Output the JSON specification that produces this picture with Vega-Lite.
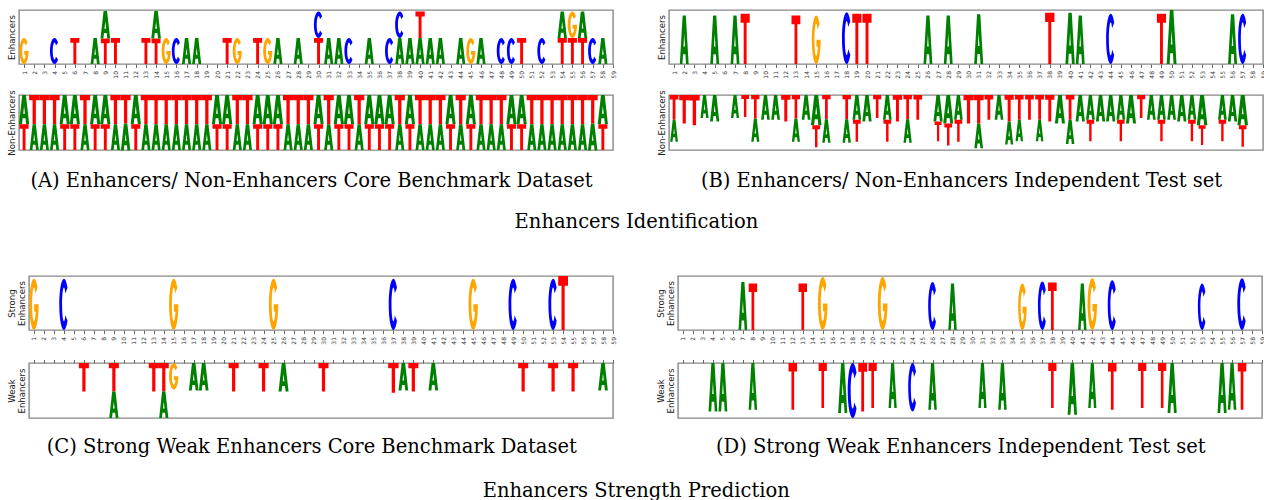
{
"$schema": "https://vega.github.io/schema/vega-lite/v6.json",
"padding": {"left": 6, "top": 9, "right": 0, "bottom": 0},
"background": "white",
"config": {
  "view": {"stroke": "#888888", "strokeWidth": 1.4},
  "axis": {"labelFont": "DejaVu Sans", "titleFont": "DejaVu Sans", "grid": false, "minExtent": 0},
  "title": {"font": "DejaVu Serif", "fontSize": 19.5, "fontWeight": "normal", "color": "black"}
},
"datasets": {
  "a_top": [
    {"pos":1,"b":"G","h":0.48},{"pos":4,"b":"C","h":0.48},{"pos":6,"b":"T","h":0.48},{"pos":8,"b":"A","h":0.48},
    {"pos":9,"b":"T","h":0.47},{"pos":9,"b":"A","h":0.51},{"pos":10,"b":"T","h":0.48},{"pos":13,"b":"T","h":0.48},
    {"pos":14,"b":"T","h":0.47},{"pos":14,"b":"A","h":0.51},{"pos":15,"b":"G","h":0.48},{"pos":16,"b":"C","h":0.48},
    {"pos":17,"b":"A","h":0.48},{"pos":18,"b":"A","h":0.48},{"pos":21,"b":"T","h":0.48},{"pos":22,"b":"G","h":0.48},
    {"pos":24,"b":"T","h":0.48},{"pos":25,"b":"G","h":0.48},{"pos":26,"b":"A","h":0.48},{"pos":28,"b":"A","h":0.48},
    {"pos":30,"b":"T","h":0.48},{"pos":30,"b":"C","h":0.49},{"pos":31,"b":"A","h":0.48},{"pos":32,"b":"A","h":0.48},
    {"pos":33,"b":"C","h":0.48},{"pos":35,"b":"A","h":0.48},{"pos":37,"b":"C","h":0.48},{"pos":38,"b":"A","h":0.48},
    {"pos":38,"b":"C","h":0.49},{"pos":39,"b":"A","h":0.48},{"pos":40,"b":"A","h":0.48},{"pos":40,"b":"T","h":0.49},
    {"pos":41,"b":"A","h":0.48},{"pos":42,"b":"A","h":0.48},{"pos":44,"b":"A","h":0.48},{"pos":45,"b":"G","h":0.48},
    {"pos":46,"b":"A","h":0.48},{"pos":48,"b":"C","h":0.48},{"pos":49,"b":"C","h":0.48},{"pos":50,"b":"T","h":0.48},
    {"pos":52,"b":"C","h":0.48},{"pos":54,"b":"T","h":0.48},{"pos":54,"b":"A","h":0.49},{"pos":55,"b":"T","h":0.48},
    {"pos":55,"b":"G","h":0.49},{"pos":56,"b":"T","h":0.48},{"pos":56,"b":"A","h":0.49},{"pos":57,"b":"C","h":0.48},
    {"pos":58,"b":"A","h":0.48}
  ],
  "a_bot": [
    {"pos":1,"b":"A","h":0.53},{"pos":1,"b":"T","h":0.47},{"pos":2,"b":"T","h":0.53},{"pos":2,"b":"A","h":0.47},
    {"pos":3,"b":"T","h":0.53},{"pos":3,"b":"A","h":0.47},{"pos":4,"b":"T","h":0.53},{"pos":4,"b":"A","h":0.47},
    {"pos":5,"b":"A","h":0.53},{"pos":5,"b":"T","h":0.47},{"pos":6,"b":"A","h":0.53},{"pos":6,"b":"T","h":0.47},
    {"pos":7,"b":"T","h":0.53},{"pos":7,"b":"A","h":0.47},{"pos":8,"b":"A","h":0.53},{"pos":8,"b":"T","h":0.47},
    {"pos":9,"b":"A","h":0.53},{"pos":9,"b":"T","h":0.47},{"pos":10,"b":"T","h":0.53},{"pos":10,"b":"A","h":0.47},
    {"pos":11,"b":"T","h":0.52},{"pos":11,"b":"A","h":0.49},{"pos":12,"b":"A","h":0.53},{"pos":12,"b":"T","h":0.47},
    {"pos":13,"b":"T","h":0.53},{"pos":13,"b":"A","h":0.47},{"pos":14,"b":"T","h":0.53},{"pos":14,"b":"A","h":0.47},
    {"pos":15,"b":"T","h":0.53},{"pos":15,"b":"A","h":0.47},{"pos":16,"b":"T","h":0.53},{"pos":16,"b":"A","h":0.47},
    {"pos":17,"b":"T","h":0.53},{"pos":17,"b":"A","h":0.47},{"pos":18,"b":"T","h":0.53},{"pos":18,"b":"A","h":0.47},
    {"pos":19,"b":"T","h":0.53},{"pos":19,"b":"A","h":0.47},{"pos":20,"b":"A","h":0.53},{"pos":20,"b":"T","h":0.47},
    {"pos":21,"b":"A","h":0.53},{"pos":21,"b":"T","h":0.47},{"pos":22,"b":"T","h":0.53},{"pos":22,"b":"A","h":0.47},
    {"pos":23,"b":"T","h":0.53},{"pos":23,"b":"A","h":0.47},{"pos":24,"b":"A","h":0.53},{"pos":24,"b":"T","h":0.47},
    {"pos":25,"b":"A","h":0.53},{"pos":25,"b":"T","h":0.47},{"pos":26,"b":"A","h":0.53},{"pos":26,"b":"T","h":0.47},
    {"pos":27,"b":"T","h":0.53},{"pos":27,"b":"A","h":0.47},{"pos":28,"b":"T","h":0.53},{"pos":28,"b":"A","h":0.47},
    {"pos":29,"b":"T","h":0.53},{"pos":29,"b":"A","h":0.47},{"pos":30,"b":"A","h":0.53},{"pos":30,"b":"T","h":0.47},
    {"pos":31,"b":"T","h":0.53},{"pos":31,"b":"A","h":0.47},{"pos":32,"b":"A","h":0.53},{"pos":32,"b":"T","h":0.47},
    {"pos":33,"b":"A","h":0.53},{"pos":33,"b":"T","h":0.47},{"pos":34,"b":"T","h":0.53},{"pos":34,"b":"A","h":0.47},
    {"pos":35,"b":"A","h":0.53},{"pos":35,"b":"T","h":0.47},{"pos":36,"b":"A","h":0.53},{"pos":36,"b":"T","h":0.47},
    {"pos":37,"b":"A","h":0.53},{"pos":37,"b":"T","h":0.47},{"pos":38,"b":"T","h":0.53},{"pos":38,"b":"A","h":0.47},
    {"pos":39,"b":"A","h":0.53},{"pos":39,"b":"T","h":0.47},{"pos":40,"b":"T","h":0.53},{"pos":40,"b":"A","h":0.47},
    {"pos":41,"b":"T","h":0.53},{"pos":41,"b":"A","h":0.47},{"pos":42,"b":"T","h":0.53},{"pos":42,"b":"A","h":0.47},
    {"pos":43,"b":"A","h":0.53},{"pos":43,"b":"T","h":0.47},{"pos":44,"b":"T","h":0.53},{"pos":44,"b":"A","h":0.47},
    {"pos":45,"b":"A","h":0.53},{"pos":45,"b":"T","h":0.47},{"pos":46,"b":"T","h":0.53},{"pos":46,"b":"A","h":0.47},
    {"pos":47,"b":"T","h":0.53},{"pos":47,"b":"A","h":0.47},{"pos":48,"b":"T","h":0.53},{"pos":48,"b":"A","h":0.47},
    {"pos":49,"b":"A","h":0.53},{"pos":49,"b":"T","h":0.47},{"pos":50,"b":"A","h":0.53},{"pos":50,"b":"T","h":0.47},
    {"pos":51,"b":"T","h":0.53},{"pos":51,"b":"A","h":0.47},{"pos":52,"b":"T","h":0.53},{"pos":52,"b":"A","h":0.47},
    {"pos":53,"b":"T","h":0.53},{"pos":53,"b":"A","h":0.47},{"pos":54,"b":"T","h":0.53},{"pos":54,"b":"A","h":0.47},
    {"pos":55,"b":"T","h":0.53},{"pos":55,"b":"A","h":0.47},{"pos":56,"b":"T","h":0.53},{"pos":56,"b":"A","h":0.47},
    {"pos":57,"b":"T","h":0.52},{"pos":57,"b":"A","h":0.49},{"pos":58,"b":"A","h":0.53},{"pos":58,"b":"T","h":0.47}
  ],
  "b_top": [
    {"pos":2,"b":"A","h":0.9},{"pos":5,"b":"A","h":0.9},{"pos":7,"b":"A","h":0.9},{"pos":8,"b":"T","h":0.93},
    {"pos":13,"b":"T","h":0.9},{"pos":15,"b":"G","h":0.9},{"pos":18,"b":"C","h":0.96},{"pos":19,"b":"T","h":0.93},
    {"pos":20,"b":"T","h":0.93},{"pos":26,"b":"A","h":0.9},{"pos":28,"b":"A","h":0.9},{"pos":31,"b":"A","h":0.92},
    {"pos":38,"b":"T","h":0.95},{"pos":40,"b":"A","h":0.95},{"pos":41,"b":"A","h":0.9},{"pos":44,"b":"C","h":0.93},
    {"pos":49,"b":"T","h":0.93},{"pos":50,"b":"A","h":1.0},{"pos":56,"b":"A","h":0.92},{"pos":57,"b":"C","h":0.93}
  ],
  "b_bot": [
    {"pos":1,"b":"T","h":0.45},{"pos":1,"b":"A","h":0.4},{"pos":2,"b":"T","h":0.52},{"pos":3,"b":"T","h":0.55},
    {"pos":4,"b":"A","h":0.42},{"pos":5,"b":"A","h":0.48},{"pos":7,"b":"A","h":0.42},{"pos":8,"b":"T","h":0.4},
    {"pos":9,"b":"T","h":0.43},{"pos":9,"b":"A","h":0.42},{"pos":10,"b":"A","h":0.45},{"pos":11,"b":"A","h":0.45},
    {"pos":12,"b":"T","h":0.48},{"pos":13,"b":"T","h":0.43},{"pos":13,"b":"A","h":0.42},{"pos":14,"b":"A","h":0.45},
    {"pos":15,"b":"A","h":0.55},{"pos":15,"b":"T","h":0.4},{"pos":16,"b":"T","h":0.44},{"pos":16,"b":"A","h":0.43},
    {"pos":18,"b":"T","h":0.44},{"pos":18,"b":"A","h":0.43},{"pos":19,"b":"A","h":0.45},{"pos":19,"b":"T","h":0.4},
    {"pos":20,"b":"A","h":0.48},{"pos":21,"b":"T","h":0.42},{"pos":22,"b":"A","h":0.45},{"pos":22,"b":"T","h":0.4},
    {"pos":23,"b":"T","h":0.48},{"pos":24,"b":"T","h":0.44},{"pos":24,"b":"A","h":0.43},{"pos":25,"b":"T","h":0.45},
    {"pos":27,"b":"A","h":0.48},{"pos":27,"b":"T","h":0.36},{"pos":28,"b":"A","h":0.52},{"pos":28,"b":"T","h":0.4},
    {"pos":29,"b":"A","h":0.45},{"pos":29,"b":"T","h":0.4},{"pos":30,"b":"T","h":0.52},{"pos":31,"b":"T","h":0.52},
    {"pos":31,"b":"A","h":0.45},{"pos":32,"b":"T","h":0.45},{"pos":33,"b":"A","h":0.45},{"pos":34,"b":"T","h":0.48},
    {"pos":34,"b":"A","h":0.42},{"pos":35,"b":"T","h":0.45},{"pos":35,"b":"A","h":0.39},{"pos":36,"b":"T","h":0.45},
    {"pos":37,"b":"T","h":0.45},{"pos":37,"b":"A","h":0.39},{"pos":38,"b":"T","h":0.48},{"pos":39,"b":"A","h":0.52},
    {"pos":40,"b":"T","h":0.45},{"pos":40,"b":"A","h":0.44},{"pos":41,"b":"A","h":0.48},{"pos":42,"b":"A","h":0.45},
    {"pos":42,"b":"T","h":0.39},{"pos":43,"b":"A","h":0.48},{"pos":44,"b":"A","h":0.48},{"pos":45,"b":"A","h":0.45},
    {"pos":45,"b":"T","h":0.39},{"pos":46,"b":"A","h":0.52},{"pos":47,"b":"T","h":0.42},{"pos":48,"b":"A","h":0.45},
    {"pos":49,"b":"A","h":0.45},{"pos":49,"b":"T","h":0.39},{"pos":50,"b":"A","h":0.45},{"pos":51,"b":"A","h":0.48},
    {"pos":52,"b":"A","h":0.45},{"pos":52,"b":"T","h":0.39},{"pos":53,"b":"A","h":0.55},{"pos":53,"b":"T","h":0.36},
    {"pos":55,"b":"A","h":0.45},{"pos":55,"b":"T","h":0.39},{"pos":56,"b":"A","h":0.48},{"pos":57,"b":"A","h":0.55},
    {"pos":57,"b":"T","h":0.39}
  ],
  "c_top": [
    {"pos":1,"b":"G","h":0.95},{"pos":4,"b":"C","h":0.95},{"pos":15,"b":"G","h":0.95},{"pos":25,"b":"G","h":0.95},
    {"pos":37,"b":"C","h":0.95},{"pos":45,"b":"G","h":0.95},{"pos":49,"b":"C","h":0.95},{"pos":53,"b":"C","h":0.95},
    {"pos":54,"b":"T","h":1.0}
  ],
  "c_bot": [
    {"pos":6,"b":"T","h":0.52},{"pos":9,"b":"T","h":0.52},{"pos":9,"b":"A","h":0.48},{"pos":13,"b":"T","h":0.52},
    {"pos":14,"b":"T","h":0.52},{"pos":14,"b":"A","h":0.48},{"pos":15,"b":"G","h":0.48},{"pos":17,"b":"A","h":0.5},
    {"pos":18,"b":"A","h":0.5},{"pos":21,"b":"T","h":0.52},{"pos":24,"b":"T","h":0.52},{"pos":26,"b":"A","h":0.52},
    {"pos":30,"b":"T","h":0.52},{"pos":37,"b":"T","h":0.54},{"pos":38,"b":"A","h":0.5},{"pos":39,"b":"T","h":0.52},
    {"pos":41,"b":"A","h":0.5},{"pos":50,"b":"T","h":0.52},{"pos":53,"b":"T","h":0.52},{"pos":55,"b":"T","h":0.52},
    {"pos":58,"b":"A","h":0.5}
  ],
  "d_top": [
    {"pos":7,"b":"A","h":0.89},{"pos":8,"b":"T","h":0.86},{"pos":13,"b":"T","h":0.86},{"pos":15,"b":"G","h":0.98},
    {"pos":21,"b":"G","h":0.98},{"pos":26,"b":"C","h":0.89},{"pos":28,"b":"A","h":0.86},{"pos":35,"b":"G","h":0.86},
    {"pos":37,"b":"C","h":0.9},{"pos":38,"b":"T","h":0.88},{"pos":41,"b":"A","h":0.86},{"pos":42,"b":"G","h":0.96},
    {"pos":44,"b":"C","h":0.92},{"pos":53,"b":"C","h":0.86},{"pos":57,"b":"C","h":0.96}
  ],
  "d_bot": [
    {"pos":4,"b":"A","h":0.88},{"pos":5,"b":"A","h":0.88},{"pos":8,"b":"A","h":0.85},{"pos":12,"b":"T","h":0.85},
    {"pos":15,"b":"T","h":0.82},{"pos":17,"b":"A","h":0.91},{"pos":18,"b":"C","h":1.0},{"pos":19,"b":"T","h":0.88},
    {"pos":20,"b":"T","h":0.82},{"pos":22,"b":"A","h":0.82},{"pos":24,"b":"C","h":0.88},{"pos":26,"b":"A","h":0.85},
    {"pos":31,"b":"A","h":0.82},{"pos":33,"b":"A","h":0.85},{"pos":38,"b":"T","h":0.82},{"pos":40,"b":"A","h":0.94},
    {"pos":42,"b":"A","h":0.82},{"pos":44,"b":"T","h":0.85},{"pos":47,"b":"T","h":0.82},{"pos":49,"b":"T","h":0.82},
    {"pos":50,"b":"A","h":0.91},{"pos":55,"b":"A","h":0.91},{"pos":56,"b":"A","h":0.85},{"pos":57,"b":"T","h":0.85}
  ]
},
"resolve": {"scale": {"shape": "independent", "size": "independent"}},
"spacing": 43,
"vconcat": [
  {
    "hconcat": [
      {
        "vconcat": [
          {
            "data": {"name": "a_top"}, "width": 594, "height": 54,
            "transform": [{"stack": "h", "groupby": ["pos"], "sort": [{"field": "h", "order": "ascending"}], "as": ["y0", "y1"]}],
            "mark": {"type": "point", "filled": true, "opacity": 1, "strokeWidth": 0},
            "encoding": {
              "x": {"field": "pos", "type": "quantitative", "scale": {"domain": [0.5, 59], "nice": false, "zero": false},
                    "axis": {"orient": "bottom", "values": [1,2,3,4,5,6,7,8,9,10,11,12,13,14,15,16,17,18,19,20,21,22,23,24,25,26,27,28,29,30,31,32,33,34,35,36,37,38,39,40,41,42,43,44,45,46,47,48,49,50,51,52,53,54,55,56,57,58,59], "labelAngle": -90, "labelFontSize": 6, "labelColor": "#333333", "labelPadding": 3, "labelOverlap": false, "labelFlush": false, "labelBound": false, "tickSize": 3.5, "tickColor": "#666666", "domain": false, "title": null}},
              "y": {"field": "y0", "type": "quantitative", "scale": {"domain": [0, 1], "nice": false},
                    "axis": {"title": "Enhancers", "labels": false, "ticks": false, "domain": false, "titleFontSize": 8.6, "titleFontWeight": "normal", "titleColor": "#222222", "titlePadding": 3}},
              "shape": {"field": "b", "type": "nominal", "legend": null, "scale": {"domain": ["A","C","G","T"], "range": ["M-1,0L-0.4,0L-0.272,-1.14L0.272,-1.14L0.4,0L1,0L0.36,-5.7L-0.36,-5.7ZM-0.17,-2.05L0,-3.53L0.17,-2.05Z", "M0.766,-4.683A1,2.85,0,1,0,0.766,-1.017L0.306,-1.641A0.4,1.881,0,1,1,0.306,-4.059Z", "M0.766,-4.683A1,2.85,0,1,0,1,-2.85L0.04,-2.85L0.04,-2.05L0.36,-2.03A0.4,1.881,0,1,1,0.306,-4.059Z", "M-1,-5.7L1,-5.7L1,-4.67L0.32,-4.67L0.32,0L-0.32,0L-0.32,-4.67L-1,-4.67Z"]}},
              "color": {"field": "b", "type": "nominal", "legend": null, "scale": {"domain": ["A","C","G","T"], "range": ["#008000","#0000ff","#ffa500","#ff0000"]}},
              "size": {"field": "h", "type": "quantitative", "legend": null, "scale": {"type": "pow", "exponent": 2, "domain": [0, 1], "range": [0, 359]}}
            }
          },
          {
            "data": {"name": "a_bot"}, "width": 594, "height": 55,
            "transform": [{"stack": "h", "groupby": ["pos"], "sort": [{"field": "h", "order": "descending"}], "as": ["y0", "y1"]}],
            "mark": {"type": "point", "filled": true, "opacity": 1, "strokeWidth": 0},
            "encoding": {
              "x": {"field": "pos", "type": "quantitative", "scale": {"domain": [0.5, 59], "nice": false, "zero": false}, "axis": null},
              "y": {"field": "y1", "type": "quantitative", "scale": {"domain": [0, 1], "nice": false, "reverse": true},
                    "axis": {"title": "Non-Enhancers", "labels": false, "ticks": false, "domain": false, "titleFontSize": 8.6, "titleFontWeight": "normal", "titleColor": "#222222", "titlePadding": 3}},
              "shape": {"field": "b", "type": "nominal", "legend": null, "scale": {"domain": ["A","C","G","T"], "range": ["M-1,0L-0.4,0L-0.272,-1.14L0.272,-1.14L0.4,0L1,0L0.36,-5.7L-0.36,-5.7ZM-0.17,-2.05L0,-3.53L0.17,-2.05Z", "M0.766,-4.683A1,2.85,0,1,0,0.766,-1.017L0.306,-1.641A0.4,1.881,0,1,1,0.306,-4.059Z", "M0.766,-4.683A1,2.85,0,1,0,1,-2.85L0.04,-2.85L0.04,-2.05L0.36,-2.03A0.4,1.881,0,1,1,0.306,-4.059Z", "M-1,-5.7L1,-5.7L1,-4.67L0.32,-4.67L0.32,0L-0.32,0L-0.32,-4.67L-1,-4.67Z"]}},
              "color": {"field": "b", "type": "nominal", "legend": null, "scale": {"domain": ["A","C","G","T"], "range": ["#008000","#0000ff","#ffa500","#ff0000"]}},
              "size": {"field": "h", "type": "quantitative", "legend": null, "scale": {"type": "pow", "exponent": 2, "domain": [0, 1], "range": [0, 372.4]}}
            }
          }
        ],
        "spacing": 10,
        "resolve": {"scale": {"shape": "independent", "size": "independent"}},
        "title": {"text": "(A) Enhancers/ Non-Enhancers Core Benchmark Dataset", "orient": "bottom", "offset": 16, "anchor": "middle"}
      },
      {
        "vconcat": [
          {
            "data": {"name": "b_top"}, "width": 594, "height": 54,
            "transform": [{"stack": "h", "groupby": ["pos"], "sort": [{"field": "h", "order": "ascending"}], "as": ["y0", "y1"]}],
            "mark": {"type": "point", "filled": true, "opacity": 1, "strokeWidth": 0},
            "encoding": {
              "x": {"field": "pos", "type": "quantitative", "scale": {"domain": [0.5, 59], "nice": false, "zero": false},
                    "axis": {"orient": "bottom", "values": [1,2,3,4,5,6,7,8,9,10,11,12,13,14,15,16,17,18,19,20,21,22,23,24,25,26,27,28,29,30,31,32,33,34,35,36,37,38,39,40,41,42,43,44,45,46,47,48,49,50,51,52,53,54,55,56,57,58,59], "labelAngle": -90, "labelFontSize": 6, "labelColor": "#333333", "labelPadding": 3, "labelOverlap": false, "labelFlush": false, "labelBound": false, "tickSize": 3.5, "tickColor": "#666666", "domain": false, "title": null}},
              "y": {"field": "y0", "type": "quantitative", "scale": {"domain": [0, 1], "nice": false},
                    "axis": {"title": "Enhancers", "labels": false, "ticks": false, "domain": false, "titleFontSize": 8.6, "titleFontWeight": "normal", "titleColor": "#222222", "titlePadding": 3}},
              "shape": {"field": "b", "type": "nominal", "legend": null, "scale": {"domain": ["A","C","G","T"], "range": ["M-1,0L-0.4,0L-0.272,-2.2L0.272,-2.2L0.4,0L1,0L0.36,-11L-0.36,-11ZM-0.17,-3.96L0,-6.82L0.17,-3.96Z", "M0.766,-9.037A1,5.5,0,1,0,0.766,-1.964L0.306,-3.166A0.4,3.63,0,1,1,0.306,-7.834Z", "M0.766,-9.037A1,5.5,0,1,0,1,-5.5L0.04,-5.5L0.04,-3.96L0.36,-3.916A0.4,3.63,0,1,1,0.306,-7.834Z", "M-1,-11L1,-11L1,-9.02L0.32,-9.02L0.32,0L-0.32,0L-0.32,-9.02L-1,-9.02Z"]}},
              "color": {"field": "b", "type": "nominal", "legend": null, "scale": {"domain": ["A","C","G","T"], "range": ["#008000","#0000ff","#ffa500","#ff0000"]}},
              "size": {"field": "h", "type": "quantitative", "legend": null, "scale": {"type": "pow", "exponent": 2, "domain": [0, 1], "range": [0, 96.4]}}
            }
          },
          {
            "data": {"name": "b_bot"}, "width": 594, "height": 55,
            "transform": [{"stack": "h", "groupby": ["pos"], "sort": [{"field": "h", "order": "descending"}], "as": ["y0", "y1"]}],
            "mark": {"type": "point", "filled": true, "opacity": 1, "strokeWidth": 0},
            "encoding": {
              "x": {"field": "pos", "type": "quantitative", "scale": {"domain": [0.5, 59], "nice": false, "zero": false}, "axis": null},
              "y": {"field": "y1", "type": "quantitative", "scale": {"domain": [0, 1], "nice": false, "reverse": true},
                    "axis": {"title": "Non-Enhancers", "labels": false, "ticks": false, "domain": false, "titleFontSize": 8.6, "titleFontWeight": "normal", "titleColor": "#222222", "titlePadding": 3}},
              "shape": {"field": "b", "type": "nominal", "legend": null, "scale": {"domain": ["A","C","G","T"], "range": ["M-1,0L-0.4,0L-0.272,-1.14L0.272,-1.14L0.4,0L1,0L0.36,-5.7L-0.36,-5.7ZM-0.17,-2.05L0,-3.53L0.17,-2.05Z", "M0.766,-4.683A1,2.85,0,1,0,0.766,-1.017L0.306,-1.641A0.4,1.881,0,1,1,0.306,-4.059Z", "M0.766,-4.683A1,2.85,0,1,0,1,-2.85L0.04,-2.85L0.04,-2.05L0.36,-2.03A0.4,1.881,0,1,1,0.306,-4.059Z", "M-1,-5.7L1,-5.7L1,-4.67L0.32,-4.67L0.32,0L-0.32,0L-0.32,-4.67L-1,-4.67Z"]}},
              "color": {"field": "b", "type": "nominal", "legend": null, "scale": {"domain": ["A","C","G","T"], "range": ["#008000","#0000ff","#ffa500","#ff0000"]}},
              "size": {"field": "h", "type": "quantitative", "legend": null, "scale": {"type": "pow", "exponent": 2, "domain": [0, 1], "range": [0, 372.4]}}
            }
          }
        ],
        "spacing": 10,
        "resolve": {"scale": {"shape": "independent", "size": "independent"}},
        "title": {"text": "(B) Enhancers/ Non-Enhancers Independent Test set", "orient": "bottom", "offset": 16, "anchor": "middle"}
      }
    ],
    "spacing": 39,
    "resolve": {"scale": {"shape": "independent", "size": "independent"}},
    "title": {"text": "Enhancers Identification", "orient": "bottom", "offset": 23, "anchor": "middle"}
  },
  {
    "hconcat": [
      {
        "data": {"values": []}, "width": 1, "height": 1,
        "view": {"stroke": null},
        "mark": {"type": "point", "opacity": 0},
        "encoding": {}
      },
      {
        "hconcat": [
          {
            "vconcat": [
              {
                "data": {"name": "c_top"}, "width": 584, "height": 54,
                "transform": [{"stack": "h", "groupby": ["pos"], "sort": [{"field": "h", "order": "ascending"}], "as": ["y0", "y1"]}],
                "mark": {"type": "point", "filled": true, "opacity": 1, "strokeWidth": 0},
                "encoding": {
                  "x": {"field": "pos", "type": "quantitative", "scale": {"domain": [0.5, 59], "nice": false, "zero": false},
                        "axis": {"orient": "bottom", "values": [1,2,3,4,5,6,7,8,9,10,11,12,13,14,15,16,17,18,19,20,21,22,23,24,25,26,27,28,29,30,31,32,33,34,35,36,37,38,39,40,41,42,43,44,45,46,47,48,49,50,51,52,53,54,55,56,57,58,59], "labelAngle": -90, "labelFontSize": 6, "labelColor": "#333333", "labelPadding": 3, "labelOverlap": false, "labelFlush": false, "labelBound": false, "tickSize": 3.5, "tickColor": "#666666", "domain": false, "title": null}},
                  "y": {"field": "y0", "type": "quantitative", "scale": {"domain": [0, 1], "nice": false},
                        "axis": {"title": ["Strong", "Enhancers"], "labels": false, "ticks": false, "domain": false, "titleFontSize": 8.6, "titleLineHeight": 9.5, "titleFontWeight": "normal", "titleColor": "#222222", "titlePadding": 3}},
                  "shape": {"field": "b", "type": "nominal", "legend": null, "scale": {"domain": ["A","C","G","T"], "range": ["M-1,0L-0.4,0L-0.272,-2.2L0.272,-2.2L0.4,0L1,0L0.36,-11L-0.36,-11ZM-0.17,-3.96L0,-6.82L0.17,-3.96Z", "M0.766,-9.037A1,5.5,0,1,0,0.766,-1.964L0.306,-3.166A0.4,3.63,0,1,1,0.306,-7.834Z", "M0.766,-9.037A1,5.5,0,1,0,1,-5.5L0.04,-5.5L0.04,-3.96L0.36,-3.916A0.4,3.63,0,1,1,0.306,-7.834Z", "M-1,-11L1,-11L1,-9.02L0.32,-9.02L0.32,0L-0.32,0L-0.32,-9.02L-1,-9.02Z"]}},
                  "color": {"field": "b", "type": "nominal", "legend": null, "scale": {"domain": ["A","C","G","T"], "range": ["#008000","#0000ff","#ffa500","#ff0000"]}},
                  "size": {"field": "h", "type": "quantitative", "legend": null, "scale": {"type": "pow", "exponent": 2, "domain": [0, 1], "range": [0, 96.4]}}
                }
              },
              {
                "data": {"name": "c_bot"}, "width": 584, "height": 55,
                "transform": [{"stack": "h", "groupby": ["pos"], "sort": [{"field": "h", "order": "descending"}], "as": ["y0", "y1"]}],
                "mark": {"type": "point", "filled": true, "opacity": 1, "strokeWidth": 0},
                "encoding": {
                  "x": {"field": "pos", "type": "quantitative", "scale": {"domain": [0.5, 59], "nice": false, "zero": false},
                        "axis": {"orient": "top", "values": [1,2,3,4,5,6,7,8,9,10,11,12,13,14,15,16,17,18,19,20,21,22,23,24,25,26,27,28,29,30,31,32,33,34,35,36,37,38,39,40,41,42,43,44,45,46,47,48,49,50,51,52,53,54,55,56,57,58,59], "labels": false, "tickSize": 3.5, "tickColor": "#666666", "domain": false, "title": null}},
                  "y": {"field": "y1", "type": "quantitative", "scale": {"domain": [0, 1], "nice": false, "reverse": true},
                        "axis": {"title": ["Weak", "Enhancers"], "labels": false, "ticks": false, "domain": false, "titleFontSize": 8.6, "titleLineHeight": 9.5, "titleFontWeight": "normal", "titleColor": "#222222", "titlePadding": 3}},
                  "shape": {"field": "b", "type": "nominal", "legend": null, "scale": {"domain": ["A","C","G","T"], "range": ["M-1,0L-0.4,0L-0.272,-1.14L0.272,-1.14L0.4,0L1,0L0.36,-5.7L-0.36,-5.7ZM-0.17,-2.05L0,-3.53L0.17,-2.05Z", "M0.766,-4.683A1,2.85,0,1,0,0.766,-1.017L0.306,-1.641A0.4,1.881,0,1,1,0.306,-4.059Z", "M0.766,-4.683A1,2.85,0,1,0,1,-2.85L0.04,-2.85L0.04,-2.05L0.36,-2.03A0.4,1.881,0,1,1,0.306,-4.059Z", "M-1,-5.7L1,-5.7L1,-4.67L0.32,-4.67L0.32,0L-0.32,0L-0.32,-4.67L-1,-4.67Z"]}},
                  "color": {"field": "b", "type": "nominal", "legend": null, "scale": {"domain": ["A","C","G","T"], "range": ["#008000","#0000ff","#ffa500","#ff0000"]}},
                  "size": {"field": "h", "type": "quantitative", "legend": null, "scale": {"type": "pow", "exponent": 2, "domain": [0, 1], "range": [0, 372.4]}}
                }
              }
            ],
            "spacing": 13,
            "resolve": {"scale": {"shape": "independent", "size": "independent"}},
            "title": {"text": "(C) Strong Weak Enhancers Core Benchmark Dataset", "orient": "bottom", "offset": 19, "anchor": "middle"}
          },
          {
            "vconcat": [
              {
                "data": {"name": "d_top"}, "width": 584, "height": 54,
                "transform": [{"stack": "h", "groupby": ["pos"], "sort": [{"field": "h", "order": "ascending"}], "as": ["y0", "y1"]}],
                "mark": {"type": "point", "filled": true, "opacity": 1, "strokeWidth": 0},
                "encoding": {
                  "x": {"field": "pos", "type": "quantitative", "scale": {"domain": [0.5, 59], "nice": false, "zero": false},
                        "axis": {"orient": "bottom", "values": [1,2,3,4,5,6,7,8,9,10,11,12,13,14,15,16,17,18,19,20,21,22,23,24,25,26,27,28,29,30,31,32,33,34,35,36,37,38,39,40,41,42,43,44,45,46,47,48,49,50,51,52,53,54,55,56,57,58,59], "labelAngle": -90, "labelFontSize": 6, "labelColor": "#333333", "labelPadding": 3, "labelOverlap": false, "labelFlush": false, "labelBound": false, "tickSize": 3.5, "tickColor": "#666666", "domain": false, "title": null}},
                  "y": {"field": "y0", "type": "quantitative", "scale": {"domain": [0, 1], "nice": false},
                        "axis": {"title": ["Strong", "Enhancers"], "labels": false, "ticks": false, "domain": false, "titleFontSize": 8.6, "titleLineHeight": 9.5, "titleFontWeight": "normal", "titleColor": "#222222", "titlePadding": 3}},
                  "shape": {"field": "b", "type": "nominal", "legend": null, "scale": {"domain": ["A","C","G","T"], "range": ["M-1,0L-0.4,0L-0.272,-2.2L0.272,-2.2L0.4,0L1,0L0.36,-11L-0.36,-11ZM-0.17,-3.96L0,-6.82L0.17,-3.96Z", "M0.766,-9.037A1,5.5,0,1,0,0.766,-1.964L0.306,-3.166A0.4,3.63,0,1,1,0.306,-7.834Z", "M0.766,-9.037A1,5.5,0,1,0,1,-5.5L0.04,-5.5L0.04,-3.96L0.36,-3.916A0.4,3.63,0,1,1,0.306,-7.834Z", "M-1,-11L1,-11L1,-9.02L0.32,-9.02L0.32,0L-0.32,0L-0.32,-9.02L-1,-9.02Z"]}},
                  "color": {"field": "b", "type": "nominal", "legend": null, "scale": {"domain": ["A","C","G","T"], "range": ["#008000","#0000ff","#ffa500","#ff0000"]}},
                  "size": {"field": "h", "type": "quantitative", "legend": null, "scale": {"type": "pow", "exponent": 2, "domain": [0, 1], "range": [0, 96.4]}}
                }
              },
              {
                "data": {"name": "d_bot"}, "width": 584, "height": 55,
                "transform": [{"stack": "h", "groupby": ["pos"], "sort": [{"field": "h", "order": "descending"}], "as": ["y0", "y1"]}],
                "mark": {"type": "point", "filled": true, "opacity": 1, "strokeWidth": 0},
                "encoding": {
                  "x": {"field": "pos", "type": "quantitative", "scale": {"domain": [0.5, 59], "nice": false, "zero": false},
                        "axis": {"orient": "top", "values": [1,2,3,4,5,6,7,8,9,10,11,12,13,14,15,16,17,18,19,20,21,22,23,24,25,26,27,28,29,30,31,32,33,34,35,36,37,38,39,40,41,42,43,44,45,46,47,48,49,50,51,52,53,54,55,56,57,58,59], "labels": false, "tickSize": 3.5, "tickColor": "#666666", "domain": false, "title": null}},
                  "y": {"field": "y1", "type": "quantitative", "scale": {"domain": [0, 1], "nice": false, "reverse": true},
                        "axis": {"title": ["Weak", "Enhancers"], "labels": false, "ticks": false, "domain": false, "titleFontSize": 8.6, "titleLineHeight": 9.5, "titleFontWeight": "normal", "titleColor": "#222222", "titlePadding": 3}},
                  "shape": {"field": "b", "type": "nominal", "legend": null, "scale": {"domain": ["A","C","G","T"], "range": ["M-1,0L-0.4,0L-0.272,-2.2L0.272,-2.2L0.4,0L1,0L0.36,-11L-0.36,-11ZM-0.17,-3.96L0,-6.82L0.17,-3.96Z", "M0.766,-9.037A1,5.5,0,1,0,0.766,-1.964L0.306,-3.166A0.4,3.63,0,1,1,0.306,-7.834Z", "M0.766,-9.037A1,5.5,0,1,0,1,-5.5L0.04,-5.5L0.04,-3.96L0.36,-3.916A0.4,3.63,0,1,1,0.306,-7.834Z", "M-1,-11L1,-11L1,-9.02L0.32,-9.02L0.32,0L-0.32,0L-0.32,-9.02L-1,-9.02Z"]}},
                  "color": {"field": "b", "type": "nominal", "legend": null, "scale": {"domain": ["A","C","G","T"], "range": ["#008000","#0000ff","#ffa500","#ff0000"]}},
                  "size": {"field": "h", "type": "quantitative", "legend": null, "scale": {"type": "pow", "exponent": 2, "domain": [0, 1], "range": [0, 100]}}
                }
              }
            ],
            "spacing": 13,
            "resolve": {"scale": {"shape": "independent", "size": "independent"}},
            "title": {"text": "(D) Strong Weak Enhancers Independent Test set", "orient": "bottom", "offset": 19, "anchor": "middle"}
          }
        ],
        "spacing": 38,
        "resolve": {"scale": {"shape": "independent", "size": "independent"}}
      }
    ],
    "spacing": -14,
    "resolve": {"scale": {"shape": "independent", "size": "independent"}},
    "title": {"text": "Enhancers Strength Prediction", "orient": "bottom", "offset": 26, "anchor": "middle"}
  }
]
}
